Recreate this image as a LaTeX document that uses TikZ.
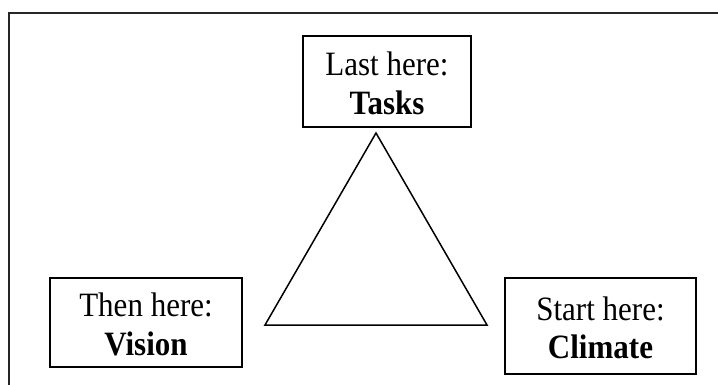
\documentclass[tikz,border=0pt]{standalone}
\usepackage{fontspec}
\setmainfont{Liberation Serif}
\usepackage{graphicx}
\usepackage{tikz}
\usetikzlibrary{positioning}
\newcommand{\phasetext}[2]{\raisebox{-6pt}[\height][\depth]{\scalebox{1}[1.1]{\begin{tabular}{@{}c@{}}#1\\\textbf{#2}\end{tabular}}}}
\tikzstyle{phase} = [rectangle, draw=black, line width=1.5pt, align=center, inner sep=0pt, font=\fontsize{31}{35}\selectfont]
\tikzstyle{frame} = [draw=black!85, line width=1.2pt]
\tikzstyle{tri} = [draw=black, line width=1.5pt, line join=miter]

\begin{document}
\begin{tikzpicture}[x=1pt, y=-1pt]
    \useasboundingbox (0, 0) rectangle (718, 385);
    % page border (top and left only)
    \draw[frame] (718, 13) -- (9, 13) -- (9, 385);

    % the three phases
    \node[phase, minimum width=168pt, minimum height=91pt] (tasks) at (387, 81.5) {\phasetext{Last here:}{Tasks}};
    \node[phase, minimum width=192pt, minimum height=89pt] (vision) at (146, 322.5) {\phasetext{Then here:}{Vision}};
    \node[phase, minimum width=191pt, minimum height=96pt] (climate) at (600.5, 326) {\phasetext{Start here:}{Climate}};

    % triangle in the middle
    \coordinate (apex) at (376, 133);
    \coordinate (left) at (265, 325);
    \coordinate (right) at (487, 325);
    \draw[tri] (apex) -- (left) -- (right) -- cycle;
\end{tikzpicture}
\end{document}
